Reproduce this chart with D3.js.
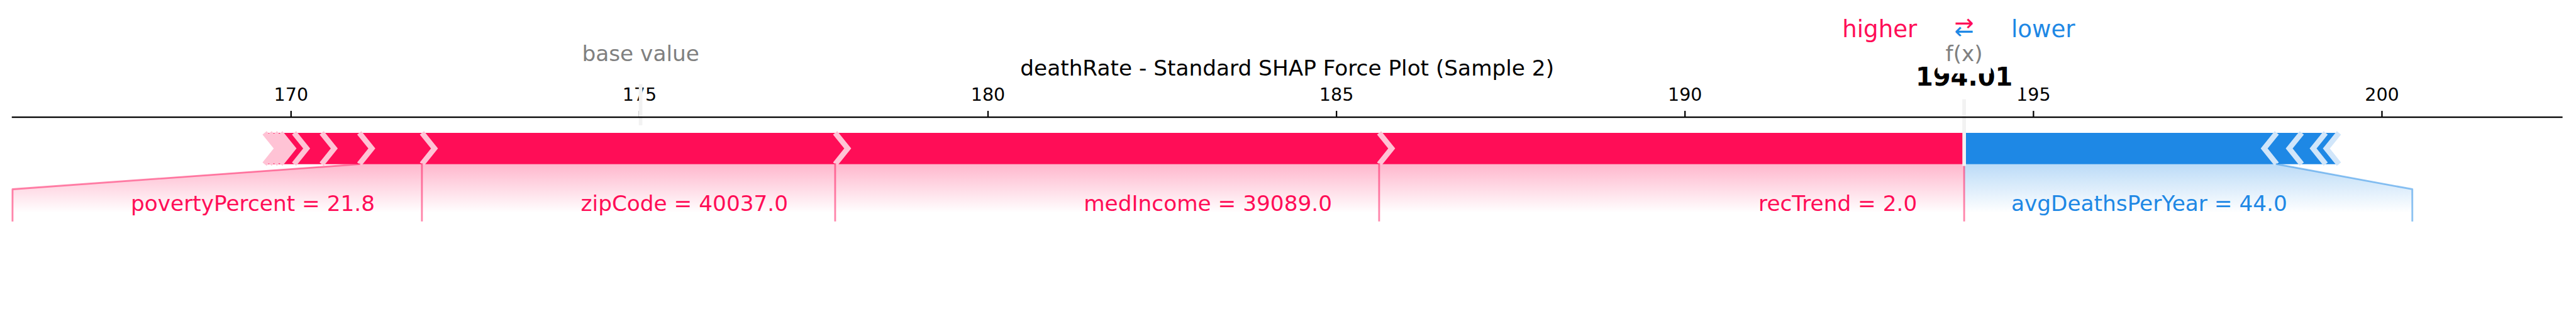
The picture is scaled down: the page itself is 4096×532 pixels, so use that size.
<!DOCTYPE html>
<html><head><meta charset="utf-8">
<script src="https://cdn.jsdelivr.net/npm/d3@7"></script>
<style>html,body{margin:0;padding:0;background:#fff;} svg{display:block;}</style>
</head><body>
<svg id="chart" width="4096" height="532"></svg>
<script>
// ---------------- data ----------------
const chartTitle = "deathRate - Standard SHAP Force Plot (Sample 2)";
const outName = "f(x)";
const baseValue = 175.02;
const outValue = 194.01;
// positive (red) contributions, largest first
const posNames   = ["recTrend", "medIncome", "zipCode", "povertyPercent", null, null, null, null, null, null];
const posValues  = ["2.0", "39089.0", "40037.0", "21.8", null, null, null, null, null, null];
const posEffects = [8.394, 7.805, 5.929, 0.899, 0.539, 0.396, 0.196, 0.079, 0.076, 0.072];
// negative (blue) contributions, largest first
const negNames   = ["avgDeathsPerYear", null, null, null];
const negValues  = ["44.0", null, null, null];
const negEffects = [-4.485, -0.359, -0.343, -0.190];
// where the label connectors end (value units): [positive side, negative side]
const labelEnds = [166.008, 200.44];
const tickValues = [170, 175, 180, 185, 190, 195, 200];

// ---------------- layout ----------------
const S = 0.686;
const PT = 300 / 72 * S;          // px per point
const FONT = "'DejaVu Sans', sans-serif";
const RED = "#FF0D57", RED_L = "#FFC3D5", BLUE = "#1E88E5", BLUE_L = "#D1E6FA";
const svg = d3.select("#chart");

// cumulative positions
const posPos = []; let p = outValue;
posEffects.forEach(e => { p -= Math.abs(e); posPos.push(p); });
const negPos = []; p = outValue;
negEffects.forEach(e => { p += Math.abs(e); negPos.push(p); });

const totalPos = d3.max(posPos) - d3.min(posPos);
const totalNeg = d3.max(negPos) - d3.min(negPos);
const offsetText = (totalNeg + totalPos) * 0.04;
const padding = Math.max(totalPos * 0.2, totalNeg * 0.2);
const minX = Math.min(d3.min(posPos), baseValue) - padding;
const maxX = Math.max(d3.max(negPos), baseValue) + padding;
const sepW = (maxX - minX) / 200;
const totalEffect = totalNeg + totalPos;
const minPerc = 0.05;
const barW = 0.1;

const x = d3.scaleLinear()
  .domain([Math.min(minX, labelEnds[0]), Math.max(maxX, labelEnds[1])])
  .range([29 * S, 5938 * S]);
const y = d3.scaleLinear().domain([-0.5, 0.15]).range([742.5 * S, 271.25 * S]);

const defs = svg.append("defs");
const gShade = svg.append("g");
const gBars = svg.append("g");
const gAxis = svg.append("g");
const gLines = svg.append("g");
const gSpine = svg.append("g");
const gText = svg.append("g");

const line = d3.line().x(d => x(d[0])).y(d => y(d[1]));

// ---------------- bars ----------------
function drawBars(positions, type) {
  const colors = type === "positive" ? [RED, RED_L] : [BLUE, BLUE_L];
  const indent = type === "positive" ? sepW : -sepW;
  let pre = outValue;
  const rects = [], seps = [];
  positions.forEach((pos, i) => {
    let left, right, sepPos;
    if (type === "positive") { left = pos; right = pre; pre = left; sepPos = left; }
    else { left = pre; right = pos; pre = right; sepPos = right; }
    let pts;
    if (i === 0) {
      pts = type === "positive"
        ? [[left, 0], [right, 0], [right, barW], [left, barW], [left + indent, barW / 2]]
        : [[right, 0], [left, 0], [left, barW], [right, barW], [right + indent, barW / 2]];
    } else {
      pts = [[left, 0], [right, 0], [right + indent * 0.9, barW / 2], [right, barW],
             [left, barW], [left + indent * 0.9, barW / 2]];
    }
    rects.push(pts);
    seps.push([[sepPos, 0], [sepPos + indent, barW / 2], [sepPos, barW]]);
  });
  rects.forEach(pts => gBars.append("path").attr("d", line(pts) + "Z").attr("fill", colors[0]));
  seps.forEach(pts => gBars.append("path").attr("d", line(pts)).attr("fill", "none")
    .attr("stroke", colors[1]).attr("stroke-width", 3 * PT)
    .attr("stroke-linejoin", "miter").attr("stroke-linecap", "butt").attr("stroke-miterlimit", 10));
}
drawBars(negPos, "negative");
drawBars(posPos, "positive");

// ---------------- axis ----------------
const axis = d3.axisTop(x).tickValues(tickValues).tickSize(14.6 * S).tickSizeOuter(0)
  .tickPadding(23.6 * S).tickFormat(d3.format("d"));
gAxis.attr("transform", `translate(0,${y(0.15)})`).call(axis);
gAxis.select(".domain").remove();
gAxis.selectAll(".tick line").attr("stroke", "#000").attr("stroke-width", 0.8 * PT);
gAxis.selectAll(".tick text").attr("fill", "#000").attr("font-family", FONT).attr("font-size", 10 * PT);
gAxis.attr("font-family", FONT);

gSpine.append("line")
  .attr("x1", x.range()[0]).attr("x2", x.range()[1])
  .attr("y1", y(0.15)).attr("y2", y(0.15))
  .attr("stroke", "#000").attr("stroke-width", 0.8 * PT).attr("stroke-linecap", "square");

// ---------------- labels ----------------
function addLabelLine(pts, color) {
  gLines.append("path").attr("d", line(pts)).attr("fill", "none")
    .attr("stroke", color).attr("stroke-opacity", 0.5).attr("stroke-width", 1 * PT)
    .attr("stroke-linecap", "square").attr("stroke-linejoin", "round");
}

function drawLabels(positions, names, values, type) {
  const positive = type === "positive";
  const color = positive ? RED : BLUE;
  const sign = positive ? 1 : -1;
  const padPx = 4 * PT;
  let startText = outValue, preVal = outValue, boxEnd = outValue;
  if (positive) addLabelLine([[outValue, 0], [outValue, -0.18]], color);
  for (let i = 0; i < positions.length; i++) {
    const contrib = Math.abs(positions[i] - preVal) / Math.abs(totalEffect);
    if (contrib < minPerc || !names[i]) break;
    const val = positions[i];
    const txt = names[i] + " = " + values[i];
    const t = gText.append("text")
      .attr("x", x(startText - sign * offsetText)).attr("y", y(-0.15))
      .attr("text-anchor", positive ? "end" : "start")
      .attr("font-family", FONT).attr("font-size", 12 * PT).attr("fill", color).text(txt);
    const bb = t.node().getBBox();
    const edge = positive ? x.invert(bb.x - padPx) : x.invert(bb.x + bb.width + padPx);
    if (sign * edge > sign * val) {
      addLabelLine([[val, 0], [val, -0.18]], color);
      startText = val; boxEnd = val;
    } else {
      boxEnd = positive ? labelEnds[0] : labelEnds[1];
      addLabelLine([[val, 0], [boxEnd, -0.08], [boxEnd, -0.18]], color);
      startText = boxEnd;
    }
    preVal = val;
  }
  // shading
  const gid = "shade-" + type;
  const grad = defs.append("linearGradient").attr("id", gid)
    .attr("gradientUnits", "userSpaceOnUse")
    .attr("x1", 0).attr("x2", 0).attr("y1", y(0)).attr("y2", y(-0.155));
  grad.append("stop").attr("offset", 0).attr("stop-color", color).attr("stop-opacity", 0.3);
  grad.append("stop").attr("offset", 1).attr("stop-color", color).attr("stop-opacity", 0);
  const poly = [[outValue, 0], [preVal, 0], [boxEnd, -0.08], [boxEnd, -0.2], [outValue, -0.2]];
  gShade.append("path").attr("d", line(poly) + "Z").attr("fill", `url(#${gid})`);
}
drawLabels(negPos, negNames, negValues, "negative");
drawLabels(posPos, posNames, posValues, "positive");

// ---------------- higher / lower ----------------
gText.append("text").attr("x", x(outValue - offsetText)).attr("y", y(0.405))
  .attr("text-anchor", "end").attr("font-family", FONT).attr("font-size", 13 * PT)
  .attr("fill", RED).text("higher");
gText.append("text").attr("x", x(outValue + offsetText)).attr("y", y(0.405))
  .attr("text-anchor", "start").attr("font-family", FONT).attr("font-size", 13 * PT)
  .attr("fill", BLUE).text("lower");
gText.append("text").attr("x", x(outValue)).attr("y", y(0.4))
  .attr("text-anchor", "middle").attr("font-family", FONT).attr("font-size", 13 * PT)
  .attr("fill", BLUE).text("\u2190");
gText.append("text").attr("x", x(outValue)).attr("y", y(0.425))
  .attr("text-anchor", "middle").attr("font-family", FONT).attr("font-size", 13 * PT)
  .attr("fill", RED).text("\u2192");

// ---------------- text with white box ----------------
function boxedText(xv, yv, str, sizePt, weight, fill) {
  const fs = sizePt * PT, pad = 4 * PT;
  const g = gText.append("g");
  const r = g.append("rect");
  const t = g.append("text").attr("x", x(xv)).attr("y", y(yv)).attr("text-anchor", "middle")
    .attr("font-family", FONT).attr("font-size", fs).attr("font-weight", weight)
    .attr("fill", fill).text(str);
  const bb = t.node().getBBox();
  const base = y(yv);
  r.attr("x", bb.x - pad).attr("width", bb.width + 2 * pad)
   .attr("y", base - 0.76 * fs - pad).attr("height", 0.97 * fs + 2 * pad)
   .attr("fill", "#fff").attr("stroke", "#fff").attr("stroke-width", 1 * PT);
}

// base value element
gLines.append("line").attr("x1", x(baseValue)).attr("x2", x(baseValue))
  .attr("y1", y(0.13)).attr("y2", y(0.25))
  .attr("stroke", "#F2F2F2").attr("stroke-width", 2 * PT).attr("stroke-linecap", "square");
boxedText(baseValue, 0.33, "base value", 12, "normal", "#808080");

// output element
gLines.append("line").attr("x1", x(outValue)).attr("x2", x(outValue))
  .attr("y1", y(0)).attr("y2", y(0.24))
  .attr("stroke", "#F2F2F2").attr("stroke-width", 2 * PT).attr("stroke-linecap", "square");
boxedText(outValue, 0.25, outValue.toFixed(2), 14, "bold", "#000");
boxedText(outValue, 0.33, outName, 12, "normal", "#808080");

// ---------------- title ----------------
gText.append("text").attr("x", (x.range()[0] + x.range()[1]) / 2).attr("y", 175 * S)
  .attr("text-anchor", "middle").attr("font-family", FONT).attr("font-size", 12 * PT)
  .attr("fill", "#000").text(chartTitle);
</script>
</body></html>
